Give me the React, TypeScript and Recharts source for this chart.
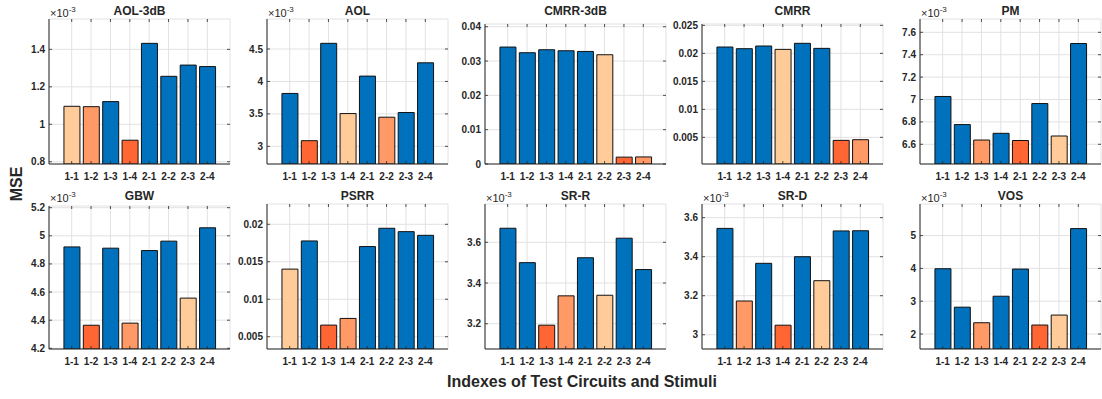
import React from 'react';
import { BarChart, Bar, XAxis, YAxis, CartesianGrid, Cell } from 'recharts';

// ---------- data ----------
const categories = ['1-1', '1-2', '1-3', '1-4', '2-1', '2-2', '2-3', '2-4'];

const aol3dbValues = [1.096, 1.094, 1.121, 0.915, 1.432, 1.256, 1.316, 1.308];
const aol3dbTicks = [0.8, 1, 1.2, 1.4];
const aolValues = [3.815, 3.087, 4.587, 3.505, 4.082, 3.449, 3.521, 4.287];
const aolTicks = [3, 3.5, 4, 4.5];
const cmrr3dbValues = [0.03408, 0.03243, 0.0333, 0.033, 0.0328, 0.03184, 0.002, 0.00206];
const cmrr3dbTicks = [0, 0.01, 0.02, 0.03, 0.04];
const cmrrValues = [0.02113, 0.02083, 0.02131, 0.02071, 0.02179, 0.02089, 0.00446, 0.00458];
const cmrrTicks = [0.005, 0.01, 0.015, 0.02, 0.025];
const pmValues = [7.027, 6.776, 6.638, 6.698, 6.634, 6.964, 6.674, 7.5];
const pmTicks = [6.6, 6.8, 7, 7.2, 7.4, 7.6];
const gbwValues = [4.921, 4.364, 4.912, 4.379, 4.895, 4.962, 4.557, 5.057];
const gbwTicks = [4.2, 4.4, 4.6, 4.8, 5, 5.2];
const psrrValues = [0.01402, 0.01778, 0.00655, 0.00744, 0.01703, 0.01947, 0.01902, 0.01853];
const psrrTicks = [0.005, 0.01, 0.015, 0.02];
const srrValues = [3.669, 3.5, 3.193, 3.337, 3.524, 3.34, 3.62, 3.466];
const srrTicks = [3.2, 3.4, 3.6];
const srdValues = [3.545, 3.173, 3.366, 3.049, 3.4, 3.277, 3.532, 3.533];
const srdTicks = [3, 3.2, 3.4, 3.6];
const vosValues = [3.99, 2.818, 2.344, 3.152, 3.98, 2.274, 2.578, 5.213];
const vosTicks = [2, 3, 4, 5];

// ---------- styles ----------
const FONT = '"Liberation Sans", Arial, Helvetica, sans-serif';
const TEXT = '#262626';
const BLUE = '#0072BD';
const RANK_COLORS = ['#FF6633', '#FF9966', '#FFCC99']; // smallest, 2nd, 3rd
const YW = 45;
const PLOT_W = 181;
const TOP_M = 8;
const LEFTS = [49, 267, 485, 702, 920];

type PanelDef = {
  title: string;
  values: number[];
  ticks: number[];
  domain: [number, number];
  exp: boolean;
  left: number;
  top: number;
  bottom: number;
};

const panels: PanelDef[] = [
  { title: 'AOL-3dB', values: aol3dbValues, ticks: aol3dbTicks, domain: [0.788, 1.562], exp: true, left: LEFTS[0], top: 19, bottom: 164 },
  { title: 'AOL', values: aolValues, ticks: aolTicks, domain: [2.728, 4.962], exp: true, left: LEFTS[1], top: 19, bottom: 164 },
  { title: 'CMRR-3dB', values: cmrr3dbValues, ticks: cmrr3dbTicks, domain: [0, 0.0408], exp: false, left: LEFTS[2], top: 24, bottom: 164 },
  { title: 'CMRR', values: cmrrValues, ticks: cmrrTicks, domain: [0.00024, 0.02524], exp: false, left: LEFTS[3], top: 24, bottom: 164 },
  { title: 'PM', values: pmValues, ticks: pmTicks, domain: [6.424, 7.719], exp: true, left: LEFTS[4], top: 19, bottom: 164 },
  { title: 'GBW', values: gbwValues, ticks: gbwTicks, domain: [4.195, 5.212], exp: true, left: LEFTS[0], top: 206, bottom: 349 },
  { title: 'PSRR', values: psrrValues, ticks: psrrTicks, domain: [0.00336, 0.02271], exp: false, left: LEFTS[1], top: 204, bottom: 349 },
  { title: 'SR-R', values: srrValues, ticks: srrTicks, domain: [3.076, 3.788], exp: true, left: LEFTS[2], top: 204, bottom: 349 },
  { title: 'SR-D', values: srdValues, ticks: srdTicks, domain: [2.927, 3.67], exp: true, left: LEFTS[3], top: 204, bottom: 349 },
  { title: 'VOS', values: vosValues, ticks: vosTicks, domain: [1.544, 5.962], exp: true, left: LEFTS[4], top: 204, bottom: 349 },
];

function rankColors(values: number[]): string[] {
  const order = values.map((v, i) => i).sort((a, b) => values[a] - values[b]);
  const colors = values.map(() => BLUE);
  order.slice(0, 3).forEach((idx, r) => {
    colors[idx] = RANK_COLORS[r];
  });
  return colors;
}

function Panel({ p }: { p: PanelDef }) {
  const plotH = p.bottom - p.top;
  const rows = categories.map((c, i) => ({ cat: c, v: p.values[i] }));
  const colors = rankColors(p.values);

  const yTick = (props: any) => {
    const { x, y, payload } = props;
    const pl = x + 4;
    return (
      <g>
        <text x={x} y={y} dy="0.355em" textAnchor="end" fontSize={10} fontWeight="bold" fill={TEXT} fontFamily={FONT}>
          {String(payload.value)}
        </text>
        <line x1={pl} x2={pl + 3} y1={y} y2={y} stroke={TEXT} strokeWidth={0.8} />
        <line x1={pl + PLOT_W - 3} x2={pl + PLOT_W} y1={y} y2={y} stroke={TEXT} strokeWidth={0.8} />
      </g>
    );
  };

  const xTick = (props: any) => {
    const { x, y, payload } = props;
    const pb = y - 9;
    return (
      <g>
        <text x={x} y={y} dy="0.71em" textAnchor="middle" fontSize={10} fontWeight="bold" fill={TEXT} fontFamily={FONT}>
          {payload.value}
        </text>
        <line x1={x} x2={x} y1={pb} y2={pb - 3} stroke={TEXT} strokeWidth={0.8} />
        <line x1={x} x2={x} y1={pb - plotH} y2={pb - plotH + 3} stroke={TEXT} strokeWidth={0.8} />
      </g>
    );
  };

  return (
    <div style={{ position: 'absolute', left: p.left - YW, top: p.top - TOP_M }}>
      <BarChart
        width={YW + PLOT_W + 1}
        height={plotH + TOP_M + 25}
        data={rows}
        margin={{ top: TOP_M, right: 1, left: 0, bottom: 0 }}
        barCategoryGap="10%"
      >
        <CartesianGrid stroke="#e2e2e2" strokeWidth={1} />
        <XAxis
          dataKey="cat"
          height={25}
          interval={0}
          tickLine={false}
          tickSize={0}
          tickMargin={9}
          padding={{ left: 13, right: 13 }}
          axisLine={{ stroke: TEXT }}
          tick={xTick}
        />
        <XAxis
          xAxisId="top"
          dataKey="cat"
          orientation="top"
          height={0}
          tick={false}
          tickLine={false}
          padding={{ left: 13, right: 13 }}
          axisLine={{ stroke: TEXT }}
        />
        <YAxis
          type="number"
          width={YW}
          domain={p.domain}
          ticks={p.ticks}
          allowDataOverflow
          interval={0}
          tickLine={false}
          tickSize={0}
          tickMargin={4}
          axisLine={{ stroke: TEXT }}
          tick={yTick}
        />
        <YAxis
          yAxisId="r"
          type="number"
          orientation="right"
          width={0}
          domain={p.domain}
          ticks={p.ticks}
          allowDataOverflow
          tick={false}
          tickLine={false}
          axisLine={{ stroke: TEXT }}
        />
        <Bar dataKey="v" isAnimationActive={false} stroke="#111111" strokeWidth={1}>
          {rows.map((r, i) => (
            <Cell key={r.cat} fill={colors[i]} />
          ))}
        </Bar>
      </BarChart>
    </div>
  );
}

export default function App() {
  return (
    <div
      style={{
        position: 'absolute',
        left: 0,
        top: 0,
        width: 1102,
        height: 399,
        background: '#ffffff',
        overflow: 'hidden',
        fontFamily: FONT,
      }}
    >
      {panels.map((p) => (
        <Panel key={p.title} p={p} />
      ))}
      <svg width={1102} height={399} style={{ position: 'absolute', left: 0, top: 0, pointerEvents: 'none' }}>
        {panels.map((p) => {
          const row1 = p.bottom < 200;
          const titleY = row1 ? 14.5 : 199.5;
          const expY = row1 ? 16.5 : 201.5;
          return (
            <g key={p.title}>
              <text
                x={p.left + PLOT_W / 2}
                y={titleY}
                textAnchor="middle"
                fontSize={12}
                fontWeight="bold"
                fill={TEXT}
                fontFamily={FONT}
              >
                {p.title}
              </text>
              {p.exp && (
                <text x={p.left + 1} y={expY} fontSize={11} fill={TEXT} fontFamily={FONT}>
                  ×10
                  <tspan fontSize={8} dy={-5}>
                    -3
                  </tspan>
                </text>
              )}
            </g>
          );
        })}
        <text
          x={21.5}
          y={184}
          transform="rotate(-90 21.5 184)"
          textAnchor="middle"
          fontSize={16}
          fontWeight="bold"
          fill={TEXT}
          fontFamily={FONT}
        >
          MSE
        </text>
        <text x={582} y={386.5} textAnchor="middle" fontSize={16} fontWeight="bold" fill={TEXT} fontFamily={FONT}>
          Indexes of Test Circuits and Stimuli
        </text>
      </svg>
    </div>
  );
}
